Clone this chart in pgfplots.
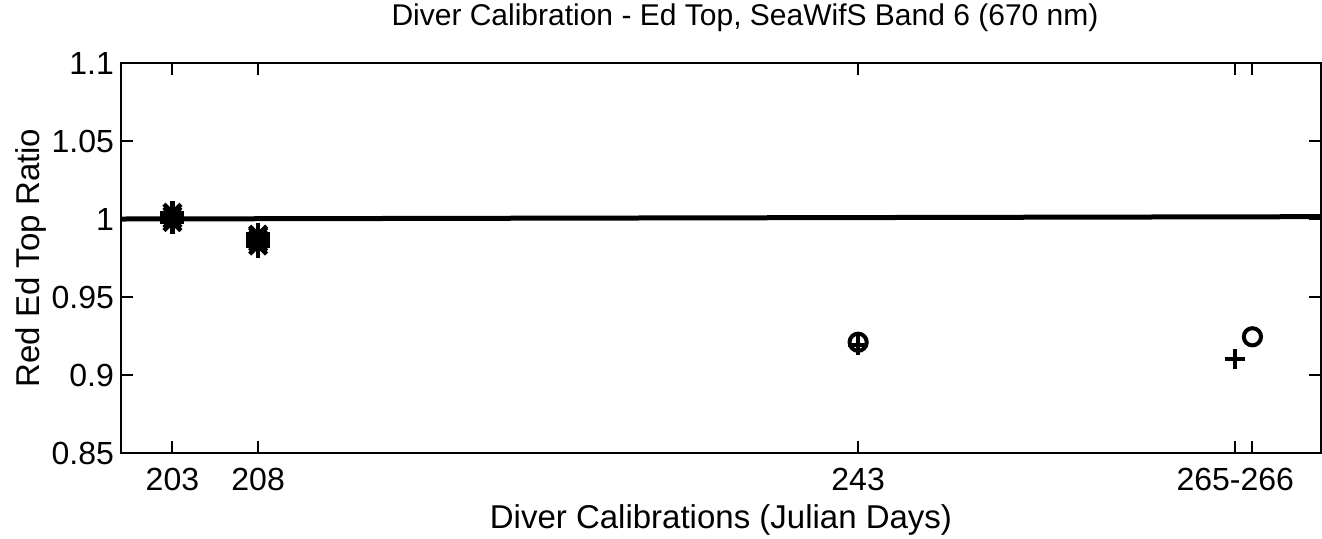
\documentclass[border=0pt]{standalone}
\usepackage{pgfplots}
\pgfplotsset{compat=1.18}
\usepackage{fontspec}
\setmainfont{Liberation Sans}
\begin{document}
\begin{tikzpicture}
\begin{axis}[
  name=ax,
  scale only axis,
  width=600pt, height=195pt,
  xmin=200, xmax=270,
  ymin=0.85, ymax=1.1,
  xtick={203,208,243,265,266},
  xticklabels={203,208,243,265-266,{}},
  ytick={0.85,0.9,0.95,1,1.05,1.1},
  yticklabels={0.85,0.9,0.95,1,1.05,1.1},
  tick align=inside,
  major tick length=6pt,
  tick style={line width=1pt,black},
  axis line style={line width=1.2pt},
  every tick label/.append style={font=\fontsize{16pt}{19pt}\selectfont},
  xticklabel style={yshift=-4pt},
  title={Diver Calibration - Ed Top, SeaWifS Band 6 (670 nm)},
  title style={font=\fontsize{15pt}{18pt}\selectfont, yshift=6pt, xshift=12pt},
  xlabel={Diver Calibrations (Julian Days)},
  ylabel={Red Ed Top Ratio},
  label style={font=\fontsize{16.5pt}{19pt}\selectfont},
  xlabel style={yshift=0pt},
  ylabel style={yshift=-4pt},
  clip=false,
]
% reference line
\addplot[black, line width=2.5pt] coordinates {(200,1.0) (270,1.0015)};
% day 203 asterisks (MATLAB * = + and x)
\addplot[only marks, mark=+, mark size=6pt, line width=2.2pt, black] coordinates {
 (203,0.998) (203,1.000) (203,1.002) (203,1.004)};
\addplot[only marks, mark=x, mark size=6pt, line width=2.2pt, black] coordinates {
 (203,0.998) (203,1.000) (203,1.002) (203,1.004)};
% day 208 asterisks
\addplot[only marks, mark=+, mark size=6pt, line width=2.2pt, black] coordinates {
 (208,0.983) (208,0.985) (208,0.987) (208,0.989) (208,0.990)};
\addplot[only marks, mark=x, mark size=6pt, line width=2.2pt, black] coordinates {
 (208,0.983) (208,0.985) (208,0.987) (208,0.989) (208,0.990)};
% plus markers
\addplot[only marks, mark=+, mark size=5pt, line width=2pt, black] coordinates {
 (243,0.919) (265,0.910)};
% circle markers
\addplot[only marks, mark=o, mark size=4.3pt, line width=2pt, black] coordinates {
 (243,0.921) (266,0.9245)};
\end{axis}
\pgfresetboundingbox
\path (ax.south west) ++(-60.5pt,-42.5pt) rectangle ++(661pt,269pt);
\end{tikzpicture}
\end{document}
